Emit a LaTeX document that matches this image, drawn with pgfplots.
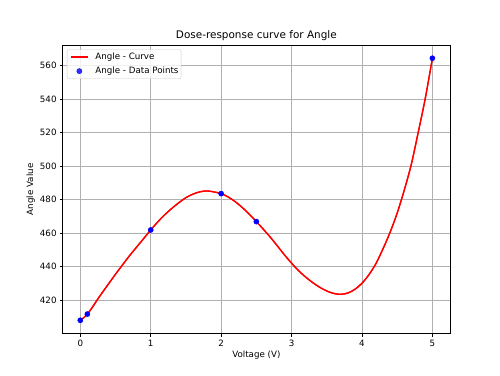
\documentclass[border=0pt]{standalone}
\usepackage{fontspec}
\setmainfont{DejaVu Sans}
\usepackage{pgfplots}
\pgfplotsset{compat=1.18}
\definecolor{gridgray}{RGB}{176,176,176}
\definecolor{legedge}{RGB}{204,204,204}
\pgfplotsset{
  curveleg/.style={legend image code/.code={\draw[##1, draw=red, line width=1.3pt] (0pt,0pt) -- (17.6pt,0pt);}},
  dotleg/.style={legend image code/.code={\fill[blue] (8.8pt,0pt) circle[radius=2.6pt];}},
}
\begin{document}
\fontsize{8.7}{10}\selectfont
\begin{tikzpicture}[x=1pt,y=1pt]
\path[use as bounding box] (-62.7,-41.3) rectangle (437.3,333.7);
\begin{axis}[
  at={(0,0)}, anchor=south west, scale only axis,
  width=387.3pt, height=288.7pt,
  xmin=-0.25, xmax=5.25, ymin=400, ymax=572.3,
  xtick={0,1,2,3,4,5}, ytick={420,440,460,480,500,520,540,560},
  grid=major,
  grid style={color=gridgray, line width=0.7pt},
  axis line style={line width=0.7pt},
  tick style={black, line width=0.7pt},
  tick align=outside, major tick length=3.04pt,
  tick pos=left,
  /pgf/number format/assume math mode=true,
  ticklabel style={font=\fontsize{8.7}{10}\selectfont},
  every axis title shift=0pt,
  title={Dose-response curve for Angle},
  title style={at={(axis description cs:0.5,1.0242)}, anchor=base, font=\fontsize{10.44}{12}\selectfont, inner sep=0pt},
  xlabel={Voltage (V)},
  xlabel style={at={(axis description cs:0.5,-0.0835)}, anchor=base, inner sep=0pt, font=\fontsize{8.7}{10}\selectfont},
  ylabel={Angle Value},
  ylabel style={at={(axis description cs:-0.0765,0.5)}, anchor=base, inner sep=0pt, font=\fontsize{8.7}{10}\selectfont},
  legend cell align=left,
  legend style={at={(axis description cs:0.0111,0.985)}, anchor=north west,
    draw=legedge, rounded corners=2pt, fill=white, fill opacity=0.8, text opacity=1,
    font=\fontsize{8.7}{10}\selectfont, row sep=5.6pt, column sep=6.6pt,
    inner xsep=2.7pt, inner ysep=3.4pt,
    nodes={inner sep=0pt, text height=6.5pt, text depth=1.9pt}},
]
\addplot[red, line width=1.3pt, smooth, curveleg] coordinates {
(0,408.0) (0.05,409.6) (0.1,411.7) (0.15,414.5) (0.2,417.6) (0.25,420.8) (0.3,423.8)
(0.4,429.7) (0.5,435.5) (0.6,441.1) (0.7,446.6) (0.8,451.7) (0.9,456.8) (1.0,461.9)
(1.1,466.7) (1.2,471.0) (1.3,474.8) (1.4,478.2) (1.5,481.2) (1.6,483.3) (1.7,484.7)
(1.8,485.2) (1.9,484.6) (2.0,483.6) (2.1,481.6) (2.2,478.8) (2.3,475.3) (2.4,471.3)
(2.5,466.9) (2.6,462.3) (2.7,457.5) (2.8,452.3) (2.9,447.0) (3.0,442.1) (3.1,437.6)
(3.2,433.8) (3.3,430.5) (3.4,427.7) (3.5,425.5) (3.6,424.0) (3.7,423.5) (3.8,424.3)
(3.9,426.5) (4.0,430.1) (4.1,435.3) (4.2,442.0) (4.3,450.8) (4.4,460.6) (4.5,472.0)
(4.6,485.6) (4.7,501.0) (4.8,520.4) (4.9,540.7) (5.0,564.4)
};
\addlegendentry{Angle - Curve}
\addplot[only marks, mark=*, mark size=2.6pt, draw=blue, fill=blue, dotleg] coordinates {
(0,408.0) (0.1,411.7) (1,461.9) (2,483.6) (2.5,466.9) (5,564.4)
};
\addlegendentry{Angle - Data Points}
\addplot[red, line width=1.3pt, smooth, forget plot] coordinates {
(0,408.0) (0.05,409.6) (0.1,411.7) (0.15,414.5) (0.2,417.6) (0.25,420.8) (0.3,423.8)
(0.4,429.7) (0.5,435.5) (0.6,441.1) (0.7,446.6) (0.8,451.7) (0.9,456.8) (1.0,461.9)
(1.1,466.7) (1.2,471.0) (1.3,474.8) (1.4,478.2) (1.5,481.2) (1.6,483.3) (1.7,484.7)
(1.8,485.2) (1.9,484.6) (2.0,483.6) (2.1,481.6) (2.2,478.8) (2.3,475.3) (2.4,471.3)
(2.5,466.9) (2.6,462.3) (2.7,457.5) (2.8,452.3) (2.9,447.0) (3.0,442.1) (3.1,437.6)
(3.2,433.8) (3.3,430.5) (3.4,427.7) (3.5,425.5) (3.6,424.0) (3.7,423.5) (3.8,424.3)
(3.9,426.5) (4.0,430.1) (4.1,435.3) (4.2,442.0) (4.3,450.8) (4.4,460.6) (4.5,472.0)
(4.6,485.6) (4.7,501.0) (4.8,520.4) (4.9,540.7) (5.0,564.4)
};
\end{axis}
\end{tikzpicture}
\end{document}
